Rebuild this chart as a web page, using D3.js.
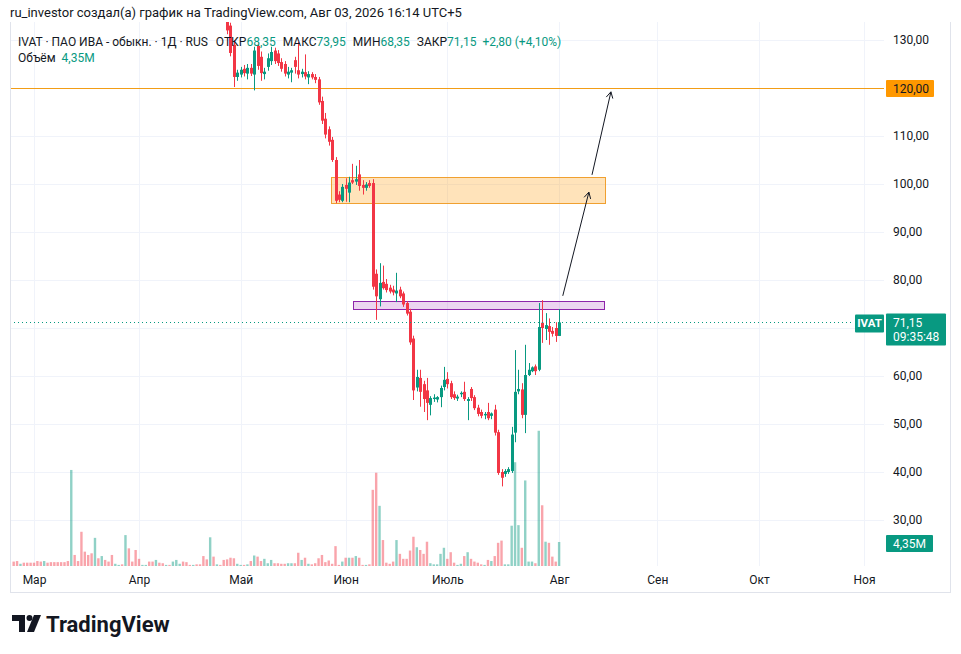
<!DOCTYPE html>
<html><head><meta charset="utf-8">
<script src="https://cdn.jsdelivr.net/npm/d3@7"></script>
<style>
body{margin:0;background:#fff;}
svg{display:block;font-family:Roboto,"Noto Sans",sans-serif;}
</style>
</head><body>
<svg id="c" width="961" height="654"></svg>
<script>
// ---------- DATA ----------
const startDate = "2026-02-23"; // first daily bar; one bar per calendar day to 2026-08-03
const openP = [152.0,151.0,150.2,150.8,150.0,149.4,149.0,148.6,147.8,147.2,148.0,147.4,146.9,146.3,145.8,145.2,144.7,143.8,154.5,152.0,
151.4,147.0,145.6,144.2,142.8,147.0,145.8,147.0,146.0,145.4,143.8,144.2,144.5,144.0,149.2,147.0,146.6,144.4,143.4,143.7,
144.0,143.3,142.6,143.8,143.3,142.9,143.2,142.8,143.7,144.8,145.1,144.3,143.7,143.4,143.7,143.2,142.8,141.2,140.3,145.0,
143.4,143.7,143.2,140.2,133.0,129.0,122.3,122.8,124.0,123.0,124.2,122.8,128.8,126.5,122.9,124.4,125.6,127.8,127.2,125.4,
125.0,122.8,123.2,125.8,123.7,122.9,123.3,122.2,122.9,122.3,121.8,117.3,113.6,111.4,109.2,105.0,97.8,96.5,99.8,98.2,
100.8,100.5,102.0,99.8,99.2,100.2,100.2,81.3,76.0,79.6,79.2,78.4,78.0,77.2,78.0,77.2,75.2,73.4,67.8,57.6,
59.6,58.3,57.0,54.0,55.2,55.1,55.6,57.7,59.4,58.5,56.2,55.3,56.2,56.7,54.8,57.3,55.6,53.4,52.5,51.8,
52.5,51.7,53.0,48.3,40.0,39.6,40.0,40.2,48.2,56.8,57.2,51.9,60.2,61.0,62.0,61.3,71.1,69.8,70.4,69.4,
70.0,68.35];
const highP = [152.8,151.6,151.2,151.0,150.4,149.8,149.5,149.0,148.2,148.4,148.3,147.8,147.2,146.7,146.1,145.6,145.0,158.0,156.0,152.8,
152.0,148.0,146.2,144.8,148.5,147.4,147.6,147.3,146.4,145.8,144.6,144.8,144.8,150.5,150.0,147.5,147.0,144.8,144.0,144.2,
144.3,143.6,144.2,144.0,143.6,143.4,143.4,144.0,145.2,145.4,145.3,144.6,143.9,143.9,143.9,143.4,143.0,141.6,146.5,145.4,
144.0,143.9,143.5,140.8,133.6,130.0,123.8,124.4,124.8,125.0,125.0,128.6,129.5,127.6,124.2,127.2,128.6,128.4,127.9,126.2,
125.6,124.4,124.2,126.5,129.6,124.0,127.0,123.5,123.3,122.9,122.3,118.2,114.8,112.0,109.8,105.6,98.5,100.0,101.2,101.5,
104.2,103.8,105.0,100.8,100.4,100.8,101.0,82.2,83.5,83.0,80.2,79.0,78.8,81.5,78.6,77.6,75.6,74.0,68.4,61.3,
61.3,59.0,59.6,55.8,56.2,55.8,58.0,61.9,60.8,59.0,56.8,56.1,56.8,58.8,55.6,57.7,56.0,54.0,53.0,52.5,
54.4,52.4,54.0,48.8,40.6,40.6,41.0,49.4,65.4,61.3,58.5,66.5,62.7,62.0,62.4,75.2,75.8,73.1,72.0,70.2,
71.2,73.95];
const lowP = [150.6,149.8,149.9,149.6,149.0,148.6,148.2,147.4,146.8,146.9,147.0,146.5,146.0,145.4,144.9,144.3,143.4,143.5,151.0,150.8,
146.0,144.8,143.6,142.0,142.4,145.2,145.4,145.6,145.0,143.2,143.5,143.9,143.6,143.8,146.4,146.2,143.8,143.0,143.2,143.5,
143.0,142.2,142.3,143.0,142.6,142.7,142.6,142.5,143.4,144.6,144.0,143.4,143.2,143.2,143.0,142.5,140.6,139.8,140.0,142.8,
143.1,142.9,139.5,131.2,126.6,120.2,121.5,122.2,122.4,121.8,122.5,119.5,123.8,121.5,121.8,123.6,124.8,125.0,124.6,123.4,
122.4,122.0,121.2,123.0,122.0,122.2,121.8,120.8,121.8,121.0,116.5,112.5,109.5,108.0,104.6,96.0,96.2,96.2,96.3,96.2,
100.0,99.8,98.6,97.8,98.6,99.2,78.0,71.7,74.5,78.0,77.4,77.2,76.8,75.4,76.2,74.4,72.6,66.5,55.0,56.8,
53.6,52.5,50.8,51.8,54.6,54.5,53.5,57.0,57.4,55.2,55.0,54.8,55.6,54.8,50.8,54.8,52.9,51.6,51.2,51.0,
50.8,51.0,47.6,39.4,37.0,39.0,39.6,39.8,46.2,56.2,51.2,48.1,60.0,60.8,60.2,61.0,66.9,67.5,66.5,68.2,
67.1,68.35];
const closeP = [151.0,150.2,150.8,150.0,149.4,149.0,148.6,147.8,147.2,148.0,147.4,146.9,146.3,145.8,145.2,144.7,143.8,154.5,152.0,151.4,
147.0,145.6,144.2,142.8,147.0,145.8,147.0,146.0,145.4,143.8,144.2,144.5,144.0,149.2,147.0,146.6,144.4,143.4,143.7,144.0,
143.3,142.6,143.8,143.3,142.9,143.2,142.8,143.7,144.8,145.1,144.3,143.7,143.4,143.7,143.2,142.8,141.2,140.3,145.0,143.4,
143.7,143.2,140.2,132.0,127.3,122.3,123.2,123.8,123.1,124.2,123.0,127.8,124.6,123.1,123.4,126.2,127.5,125.6,125.2,124.0,
123.0,123.4,123.7,124.4,122.8,123.4,122.4,122.9,122.2,121.7,117.0,113.2,110.3,108.8,105.0,96.5,96.7,99.4,99.0,100.3,
100.3,101.0,99.6,99.2,99.9,99.6,78.6,76.6,79.4,78.3,77.9,77.6,77.4,77.8,76.6,74.9,73.0,67.0,57.0,59.8,
56.7,55.2,54.4,55.4,55.5,55.6,57.5,59.2,58.3,55.6,55.4,55.7,56.5,55.2,55.2,55.4,53.3,52.1,51.7,52.1,
51.2,52.2,48.2,39.8,38.8,40.2,40.6,47.8,56.7,57.3,51.9,60.2,61.3,61.8,61.0,70.2,70.0,70.6,69.2,68.8,
68.35,71.15];
const volumeM = [0.8,0.9,0.4,0.6,0.6,0.6,0.6,0.9,0.8,0.9,0.6,0.7,0.7,0.7,0.7,0.7,0.9,17.4,2.0,0.9,
6.2,2.6,2.0,2.3,5.1,1.4,1.8,1.1,0.8,2.0,0.4,0.2,0.3,5.6,3.2,0.8,2.9,1.3,0.2,0.2,
0.8,0.8,1.1,0.6,0.5,0.2,0.2,0.8,1.1,0.4,0.8,0.7,0.2,0.2,0.3,0.3,1.8,1.2,5.2,1.7,
0.3,0.2,1.1,1.2,1.5,1.4,0.4,0.2,0.2,0.3,0.9,1.9,1.7,0.9,1.3,0.5,1.1,0.5,0.5,0.4,
0.4,0.5,0.5,0.5,2.4,1.1,1.5,0.4,0.3,0.5,1.4,2.0,0.7,1.0,0.4,3.6,0.2,0.8,1.5,1.5,
1.5,1.8,1.5,0.2,0.2,0.3,13.8,16.9,10.9,4.7,0.6,0.4,0.8,4.7,2.2,1.3,1.3,2.8,5.3,3.4,
2.9,2.2,4.4,0.5,0.3,0.3,2.2,3.3,1.3,2.5,0.6,0.2,0.4,1.8,2.5,1.3,0.8,0.6,0.3,0.2,
1.1,0.9,1.8,4.2,4.6,0.3,0.3,7.3,18.8,7.4,3.3,15.5,0.8,0.8,0.5,24.5,11.0,4.4,4.2,1.7,
0.8,4.35];

const priceTicks = [30,40,50,60,70,80,90,100,110,120,130].filter(v => v !== 70);
const monthDates = ["2026-03-01","2026-04-01","2026-05-01","2026-06-01","2026-07-01","2026-08-03","2026-09-01","2026-10-01","2026-11-01"];
const monthLabels = ["Мар","Апр","Май","Июн","Июль","Авг","Сен","Окт","Ноя"];

// drawing annotations (time / price anchored)
const levelPrice = 120;
const zoneStart = ["2026-05-27T16:00","2026-06-03T04:00"];
const zoneEnd   = ["2026-08-16T12:00","2026-08-16T04:00"];
const zoneTop    = [101.5, 75.6];
const zoneBottom = [96.0, 74.0];
const arrowFromDate  = ["2026-08-04T02:00","2026-08-12T17:00"];
const arrowFromPrice = [76.7, 101.9];
const arrowToDate    = ["2026-08-11T19:00","2026-08-18T07:00"];
const arrowToPrice   = [98.3, 119.2];

// ---------- SETUP ----------
const W = 961, H = 654;
const L = 10, R = 884, T = 22, B = 566;
const UP = "#089981", DOWN = "#f23645", TXT = "#131722", GRID = "#f0f3fa";
const svg = d3.select("#c");
const dates = d3.timeDay.range(new Date(startDate + "T00:00"), d3.timeDay.offset(new Date(startDate + "T00:00"), closeP.length));
const bars = dates.map((d, i) => ({d, o: openP[i], h: highP[i], l: lowP[i], c: closeP[i], v: volumeM[i]}));
const P = s => new Date(s.length > 10 ? s : s + "T00:00");

const x = d3.scaleTime().domain([P("2026-03-01"), P("2026-11-01")]).range([34, 864]);
const y = d3.scaleLinear().domain([30, 130]).range([520, 40]);
const yv = d3.scaleLinear().domain([0, 25]).range([B, 428]);
const fmt = v => d3.format(".2f")(v).replace(".", ",");

svg.append("rect").attr("width", W).attr("height", H).attr("fill", "#fff");

// header
svg.append("text").attr("x", 10).attr("y", 17).attr("font-size", 13).attr("fill", TXT)
  .text("ru_investor создал(а) график на TradingView.com, Авг 03, 2026 16:14 UTC+5");

// clip
svg.append("clipPath").attr("id", "plot").append("rect").attr("x", L).attr("y", T).attr("width", R - L).attr("height", B - T);

// grid
const grid = svg.append("g");
grid.selectAll(".hg").data(priceTicks.concat([70])).join("line")
  .attr("x1", L).attr("x2", R).attr("y1", d => Math.round(y(d)) + 0.5).attr("y2", d => Math.round(y(d)) + 0.5)
  .attr("stroke", GRID);
grid.selectAll(".vg").data(monthDates).join("line")
  .attr("x1", d => Math.round(x(P(d))) + 0.5).attr("x2", d => Math.round(x(P(d))) + 0.5)
  .attr("y1", T).attr("y2", B).attr("stroke", GRID);

const plot = svg.append("g").attr("clip-path", "url(#plot)");

// volume
plot.append("g").selectAll("rect").data(bars).join("rect")
  .attr("x", d => x(d.d) - 1.2).attr("width", 2.4)
  .attr("y", d => yv(d.v)).attr("height", d => B - yv(d.v))
  .attr("fill", d => d.c >= d.o ? "rgba(8,153,129,0.45)" : "rgba(242,54,69,0.45)");

// zones
plot.append("g").selectAll("rect").data(zoneStart).join("rect")
  .attr("x", (d, i) => Math.round(x(P(d))) + 0.5)
  .attr("width", (d, i) => Math.round(x(P(zoneEnd[i])) - x(P(d))))
  .attr("y", (d, i) => Math.round(y(zoneTop[i])) + 0.5)
  .attr("height", (d, i) => Math.round(y(zoneBottom[i]) - y(zoneTop[i])))
  .attr("fill", (d, i) => i === 0 ? "rgba(255,152,0,0.27)" : "rgba(186,104,200,0.28)")
  .attr("stroke", (d, i) => i === 0 ? "#f0a030" : "#8e24aa").attr("stroke-width", 1);

// 120 level
plot.append("line").attr("x1", L).attr("x2", R)
  .attr("y1", Math.round(y(levelPrice)) + 0.5).attr("y2", Math.round(y(levelPrice)) + 0.5)
  .attr("stroke", "#f29d16").attr("stroke-width", 1);

// candles
const cg = plot.append("g");
cg.selectAll("line").data(bars).join("line")
  .attr("x1", d => Math.round(x(d.d)) + 0.5).attr("x2", d => Math.round(x(d.d)) + 0.5)
  .attr("y1", d => y(d.h)).attr("y2", d => y(d.l))
  .attr("stroke", d => d.c >= d.o ? UP : DOWN).attr("stroke-width", 1);
cg.selectAll("rect").data(bars).join("rect")
  .attr("x", d => Math.round(x(d.d)) - 1).attr("width", 3)
  .attr("y", d => y(Math.max(d.o, d.c)))
  .attr("height", d => Math.max(1, Math.abs(y(d.o) - y(d.c))))
  .attr("fill", d => d.c >= d.o ? UP : DOWN);

// last price dotted line
const last = bars[bars.length - 1], prev = bars[bars.length - 2];
svg.append("line").attr("x1", L).attr("x2", 854)
  .attr("y1", Math.round(y(last.c)) + 0.5).attr("y2", Math.round(y(last.c)) + 0.5)
  .attr("stroke", UP).attr("stroke-width", 1).attr("stroke-dasharray", "1,3");

// arrows
const ag = svg.append("g").attr("stroke", TXT).attr("stroke-width", 1).attr("fill", "none");
arrowFromDate.forEach((s, i) => {
  const x1 = x(P(s)), y1 = y(arrowFromPrice[i]), x2 = x(P(arrowToDate[i])), y2 = y(arrowToPrice[i]);
  ag.append("line").attr("x1", x1).attr("y1", y1).attr("x2", x2).attr("y2", y2);
  const a = Math.atan2(y2 - y1, x2 - x1), len = 7, sp = 0.5;
  ag.append("path").attr("d",
    `M${x2 - len * Math.cos(a - sp)},${y2 - len * Math.sin(a - sp)}L${x2},${y2}L${x2 - len * Math.cos(a + sp)},${y2 - len * Math.sin(a + sp)}`);
});

// price axis
const pa = svg.append("g").attr("transform", `translate(893,0)`)
  .call(d3.axisRight(y).tickValues(priceTicks).tickSize(0).tickPadding(0).tickFormat(fmt));
pa.select(".domain").remove();
pa.selectAll("text").attr("font-size", 12).attr("fill", TXT).attr("font-family", "Roboto,'Noto Sans',sans-serif");
pa.selectAll(".tick").filter(d => d === levelPrice).remove();

// 120 label
svg.append("rect").attr("x", 886).attr("y", y(levelPrice) - 8).attr("width", 48).attr("height", 17).attr("fill", "#ff9800").attr("rx", 1);
svg.append("text").attr("x", 893).attr("y", y(levelPrice) + 4.5).attr("font-size", 12).attr("fill", TXT).text(fmt(levelPrice));

// last price labels
const ly = y(last.c);
svg.append("rect").attr("x", 855).attr("y", ly - 8).attr("width", 29).attr("height", 18).attr("fill", UP).attr("rx", 1);
svg.append("text").attr("x", 869.5).attr("y", ly + 5).attr("text-anchor", "middle").attr("font-size", 11.5).attr("font-weight", "bold").attr("fill", "#fff").text("IVAT");
svg.append("rect").attr("x", 886).attr("y", ly - 9).attr("width", 60).attr("height", 32).attr("fill", UP).attr("rx", 1);
svg.append("text").attr("x", 893).attr("y", ly + 5).attr("font-size", 12).attr("fill", "#fff").text(fmt(last.c));
svg.append("text").attr("x", 893).attr("y", ly + 19).attr("font-size", 12).attr("fill", "#fff").text("09:35:48");

// volume label
const vy = yv(last.v);
svg.append("rect").attr("x", 886).attr("y", vy - 7).attr("width", 47).attr("height", 17).attr("fill", UP).attr("rx", 1);
svg.append("text").attr("x", 893).attr("y", vy + 6).attr("font-size", 12).attr("fill", "#fff").text(fmt(last.v) + "M");

// time axis
const ta = svg.append("g").attr("transform", `translate(0,${B})`)
  .call(d3.axisBottom(x).tickValues(monthDates.map(P)).tickSize(0).tickPadding(9)
    .tickFormat((d, i) => monthLabels[i]));
ta.select(".domain").remove();
ta.selectAll("text").attr("font-size", 12).attr("fill", TXT).attr("font-family", "Roboto,'Noto Sans',sans-serif");

// frame
svg.append("line").attr("x1", L).attr("x2", 950).attr("y1", 592.5).attr("y2", 592.5).attr("stroke", "#e0e3eb");
svg.append("line").attr("x1", 950.5).attr("x2", 950.5).attr("y1", T).attr("y2", 593).attr("stroke", "#e0e3eb");
svg.append("line").attr("x1", L + 0.5).attr("x2", L + 0.5).attr("y1", T).attr("y2", 593).attr("stroke", "#e0e3eb");

// legend
const chg = last.c - prev.c, pct = chg / prev.c * 100;
const lg = svg.append("text").attr("x", 18).attr("y", 46).attr("font-size", 12).attr("fill", TXT);
lg.append("tspan").text("IVAT · ПАО ИВА - обыкн. · 1Д · RUS");
lg.append("tspan").attr("dx", 8).text("ОТКР");
lg.append("tspan").attr("fill", UP).text(fmt(last.o));
lg.append("tspan").attr("dx", 7).text("МАКС");
lg.append("tspan").attr("fill", UP).text(fmt(last.h));
lg.append("tspan").attr("dx", 7).text("МИН");
lg.append("tspan").attr("fill", UP).text(fmt(last.l));
lg.append("tspan").attr("dx", 7).text("ЗАКР");
lg.append("tspan").attr("fill", UP).text(fmt(last.c));
lg.append("tspan").attr("dx", 6).attr("fill", UP).text((chg >= 0 ? "+" : "") + fmt(chg) + " (" + (pct >= 0 ? "+" : "") + fmt(pct) + "%)");
const lg2 = svg.append("text").attr("x", 18).attr("y", 62).attr("font-size", 12).attr("fill", TXT);
lg2.append("tspan").text("Объём");
lg2.append("tspan").attr("dx", 6).attr("fill", UP).text(fmt(last.v) + "M");

// TradingView logo
const logo = svg.append("g").attr("fill", TXT);
logo.append("path").attr("d", "M12,615H25V632H19V621H12Z");
logo.append("circle").attr("cx", 29.5).attr("cy", 618).attr("r", 3);
logo.append("path").attr("d", "M34,615H41L34,632H27Z");
svg.append("text").attr("x", 46).attr("y", 632).attr("font-size", 22).attr("font-weight", "bold").attr("fill", TXT).text("TradingView");
</script>
</body></html>
